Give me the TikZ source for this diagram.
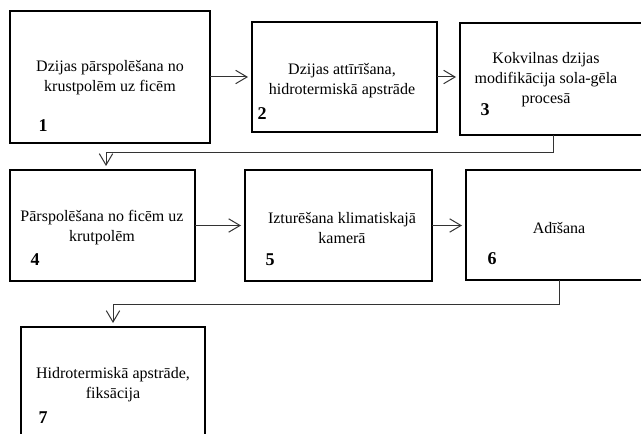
\documentclass[tikz,border=0pt]{standalone}
\usepackage{fontspec}
\setmainfont{Liberation Serif}
\usetikzlibrary{arrows.meta}
\begin{document}
\begin{tikzpicture}[x=0.75pt,y=-0.75pt,
  box/.style={draw=black, line width=1.5pt, rectangle, inner sep=0pt, outer sep=0pt},
  txt/.style={align=center, inner sep=0pt, font=\fontsize{12pt}{15pt}\selectfont},
  num/.style={inner sep=0pt, font=\fontsize{13.5pt}{15pt}\selectfont\bfseries},
  arr/.style={draw=black!80, line width=0.75pt, -{Straight Barb[length=8.5pt,width=10pt,line width=0.75pt]}, shorten >=3pt},
  lnk/.style={draw=black!80, line width=0.75pt}]
\useasboundingbox (0,0) rectangle (641,434);
\fill[white] (0,0) rectangle (641,434);
% boxes
\node[box, minimum width=150pt,   minimum height=99pt]    (b1) at (110,77) {};
\node[box, minimum width=138.75pt,minimum height=82.5pt]  (b2) at (344.5,77) {};
\node[box, minimum width=139.5pt, minimum height=84pt]    (b3) at (553,79) {};
\node[box, minimum width=138.75pt,minimum height=83.25pt] (b4) at (102.5,225.5) {};
\node[box, minimum width=140.25pt,minimum height=83.25pt] (b5) at (338.5,225.5) {};
\node[box, minimum width=139.5pt, minimum height=82.5pt]  (b6) at (559,225) {};
\node[box, minimum width=138pt,   minimum height=84pt]    (b7) at (113,383) {};
% texts
\node[txt] (t1) at (110,78) {Dzijas pārspolēšana no\\krustpolēm uz ficēm};
\node[txt] (t2) at (342,81) {Dzijas attīrīšana,\\hidrotermiskā apstrāde};
\node[txt] (t3) at (546,80) {Kokvilnas dzijas\\modifikācija sola-gēla\\procesā};
\node[txt] (t4) at (102,228) {Pārspolēšana no ficēm uz\\krutpolēm};
\node[txt] (t5) at (342,228) {Izturēšana klimatiskajā\\kamerā};
\node[txt] (t6) at (559,228) {Adīšana};
\node[txt] (t7) at (113,385) {Hidrotermiskā apstrāde,\\fiksācija};
% numbers
\node[num] (n1) at (43,126) {1};
\node[num] (n2) at (262,114) {2};
\node[num] (n3) at (485,110) {3};
\node[num] (n4) at (35,260) {4};
\node[num] (n5) at (270,260) {5};
\node[num] (n6) at (492,259) {6};
\node[num] (n7) at (43,418) {7};
% connectors
\coordinate (c34) at (106,153);
\coordinate (c67) at (113,304);
\draw[arr] (b1.east) -- (b2.west);
\draw[arr] (b2.east) -- (b2.east -| b3.west);
\draw[arr] (b4.east) -- (b4.east -| b5.west);
\draw[arr] (b5.east) -- (b5.east -| b6.west);
\draw[lnk] (b3.south) |- (c34);
\draw[arr] (c34) -- (c34 |- b4.north);
\draw[lnk] (b6.south) |- (c67);
\draw[arr] (c67) -- (c67 |- b7.north);
\end{tikzpicture}
\end{document}
